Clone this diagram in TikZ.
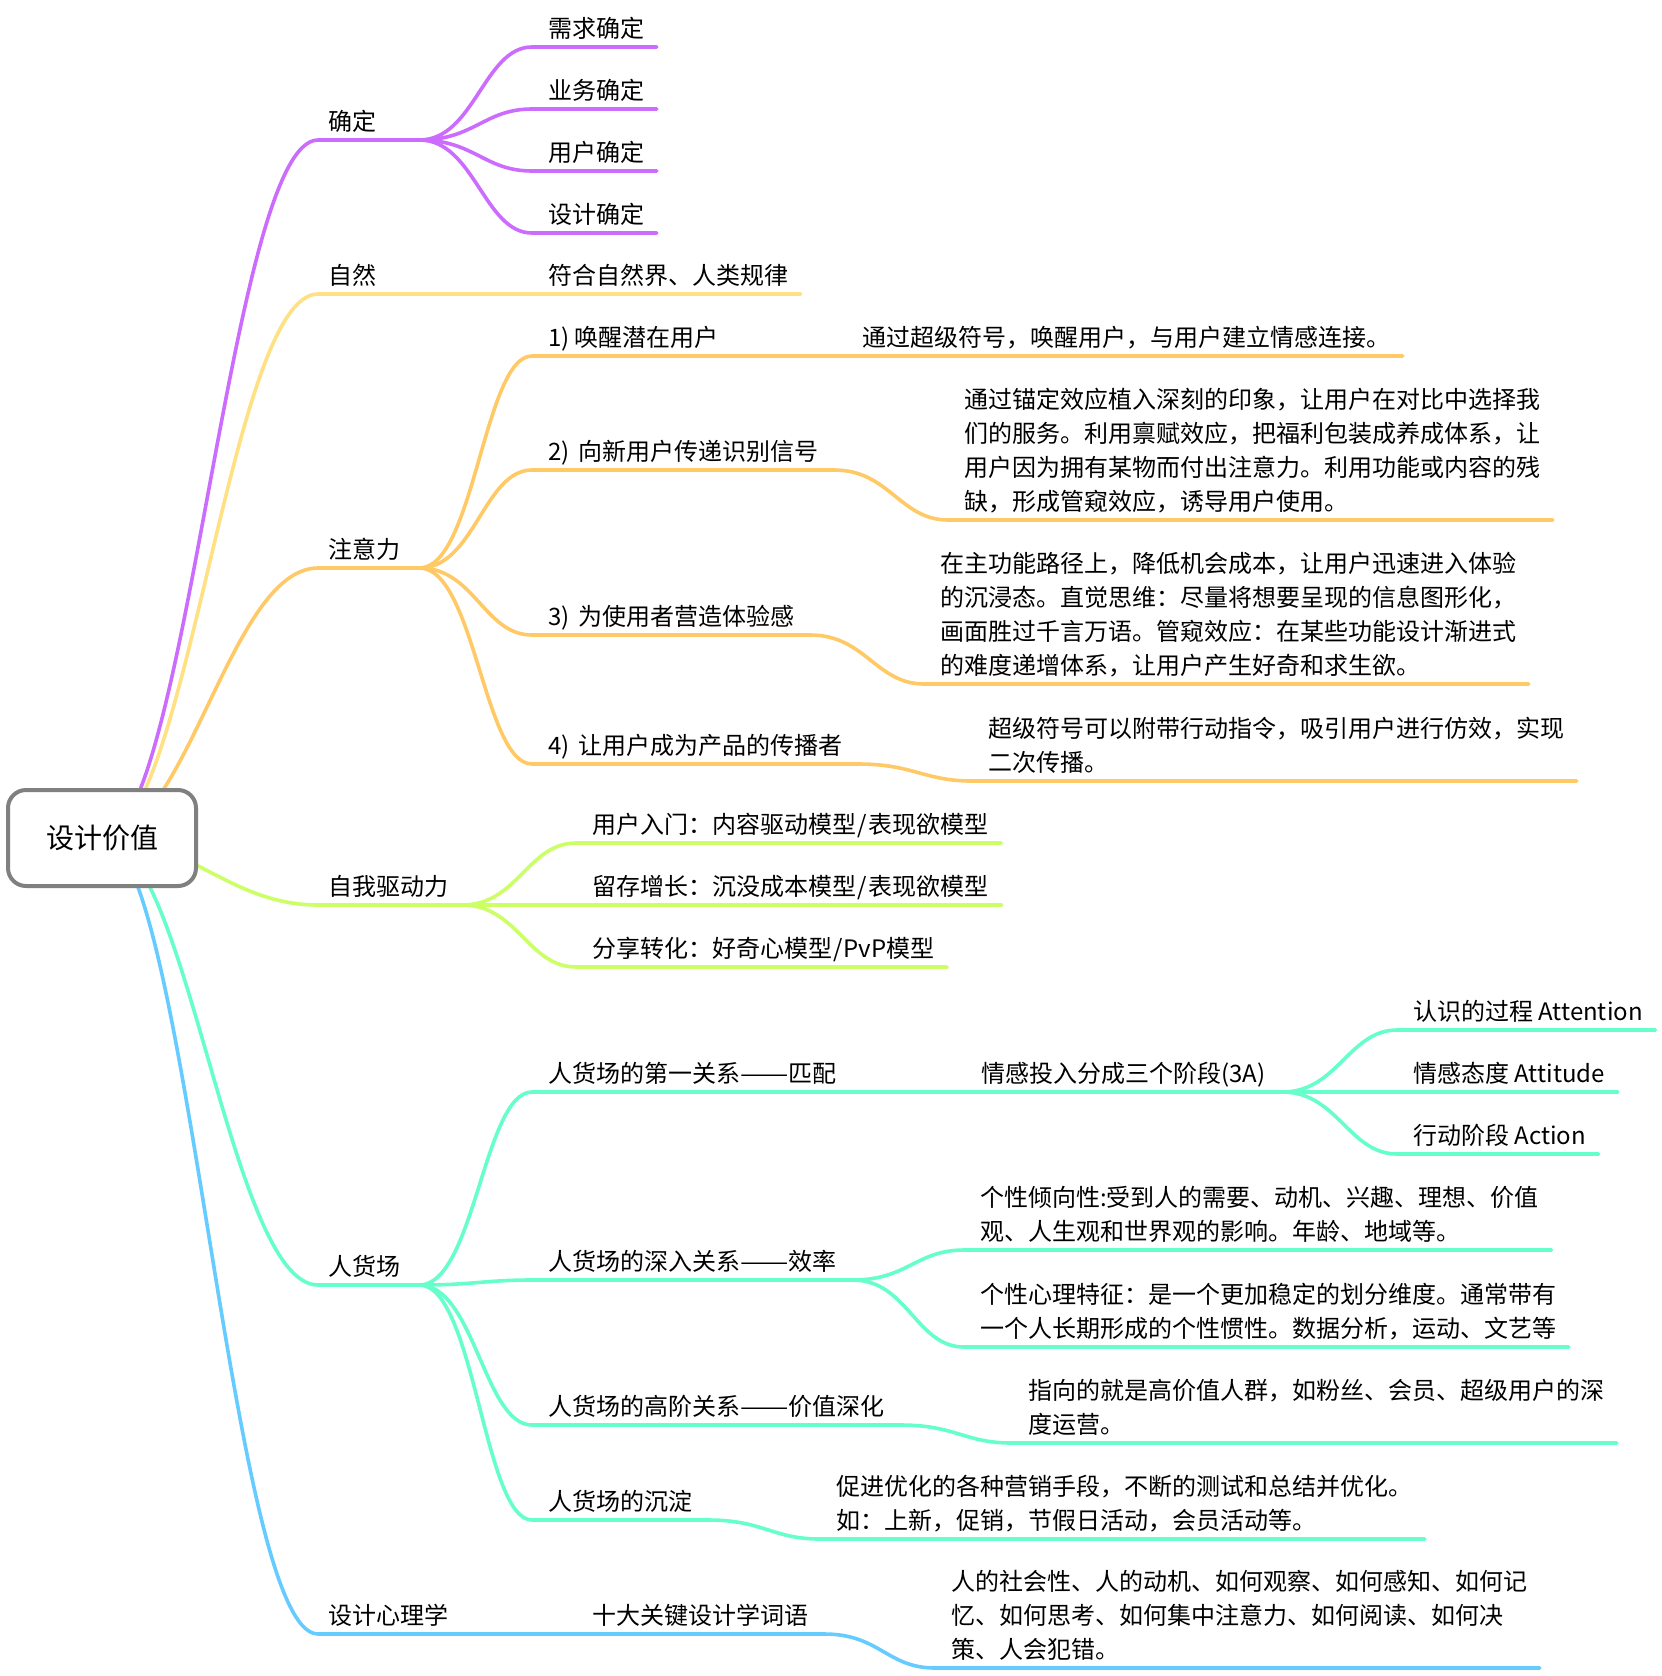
\documentclass[tikz,border=0pt]{standalone}
\usepackage{fontspec}
\setmainfont{Noto Sans CJK SC}
\usetikzlibrary{backgrounds}

\definecolor{purpleline}{HTML}{CC6CFF}
\definecolor{yellowline}{HTML}{FFE082}
\definecolor{orangeline}{HTML}{FFC966}
\definecolor{limeline}{HTML}{CCFF66}
\definecolor{tealline}{HTML}{66FFCC}
\definecolor{blueline}{HTML}{66CCFF}

\newcommand{\widedash}{{\addfontfeature{FakeStretch=1.2}——}}

\tikzset{
    topic/.style={anchor=south west, font=\fontsize{24}{34}\selectfont, align=left, inner xsep=16pt, inner ysep=0pt, text depth=9pt},
    stem/.style={topic, inner xsep=10pt},
    hub/.style={stem, text width=81pt},
    branch/.style={line width=3.6pt, line cap=round, line join=round},
    leaf/.style={branch, shorten >=3.5pt},
    twig/.style={out=0, in=180, out distance=55pt, in distance=48pt}
}

\begin{document}
\begin{tikzpicture}[x=1pt, y=-1pt]
    \useasboundingbox (0, -1) rectangle (1662, 1675);

    \node[rectangle, draw=black!50, line width=4pt, rounded corners=18pt, fill=white, minimum width=188pt, minimum height=96pt, font=\fontsize{28}{34}\selectfont] (root) at (102, 837) {设计价值};

    \node[hub] (sure) at (318, 139) {确定};
    \node[topic] (sure_a) at (532, 46) {需求确定};
    \node[topic] (sure_b) at (532, 108) {业务确定};
    \node[topic] (sure_c) at (532, 170) {用户确定};
    \node[topic] (sure_d) at (532, 232) {设计确定};

    \node[hub] (nature) at (318, 293) {自然};
    \node[topic] (nature_a) at (532, 293) {符合自然界、人类规律};

    \node[hub] (attn) at (318, 567) {注意力};
    \node[topic] (attn_a) at (532, 355) {1)\kern-1pt{} 唤醒潜在用户};
    \node[topic] (attn_a1) at (846, 355) {通过超级符号，唤醒用户，与用户建立情感连接。};
    \node[topic] (attn_b) at (532, 469) {2)\kern3pt{} 向新用户传递识别信号};
    \node[topic] (attn_b1) at (948, 519) {通过锚定效应植入深刻的印象，让用户在对比中选择我\\们的服务。利用禀赋效应，把福利包装成养成体系，让\\用户因为拥有某物而付出注意力。利用功能或内容的残\\缺，形成管窥效应，诱导用户使用。};
    \node[topic] (attn_c) at (532, 634) {3)\kern3pt{} 为使用者营造体验感};
    \node[topic] (attn_c1) at (924, 683) {在主功能路径上，降低机会成本，让用户迅速进入体验\\的沉浸态。直觉思维：尽量将想要呈现的信息图形化，\\画面胜过千言万语。管窥效应：在某些功能设计渐进式\\的难度递增体系，让用户产生好奇和求生欲。};
    \node[topic] (attn_d) at (532, 763) {4)\kern3pt{} 让用户成为产品的传播者};
    \node[topic] (attn_d1) at (972, 780) {超级符号可以附带行动指令，吸引用户进行仿效，实现\\二次传播。};

    \node[stem, text width=124pt] (drive) at (318, 904) {自我驱动力};
    \node[topic] (drive_a) at (576, 842) {用户入门：内容驱动模型\kern1.5pt/\kern1.5pt{}表现欲模型};
    \node[topic] (drive_b) at (576, 904) {留存增长：沉没成本模型\kern1.5pt/\kern1.5pt{}表现欲模型};
    \node[topic] (drive_c) at (576, 966) {分享转化：好奇心模型\kern1pt/\kern1pt{}PvP模型};

    \node[hub] (scene) at (318, 1284) {人货场};
    \node[topic] (scene_a) at (532, 1091) {人货场的第一关系\widedash{}匹配};
    \node[topic, text width=285pt] (scene_a1) at (965, 1091) {情感投入分成三个阶段(3A)};
    \node[topic] (stage_a) at (1397, 1029) {认识的过程 Attention};
    \node[topic] (stage_b) at (1397, 1091) {情感态度 Attitude};
    \node[topic] (stage_c) at (1397, 1153) {行动阶段 Action};
    \node[topic] (scene_b) at (532, 1279) {人货场的深入关系\widedash{}效率};
    \node[topic] (scene_b1) at (964, 1249) {个性倾向性:受到人的需要、动机、兴趣、理想、价值\\观、人生观和世界观的影响。年龄、地域等。};
    \node[topic] (scene_b2) at (964, 1346) {个性心理特征：是一个更加稳定的划分维度。通常带有\\一个人长期形成的个性惯性。数据分析，运动、文艺等};
    \node[topic] (scene_c) at (532, 1424) {人货场的高阶关系\widedash{}价值深化};
    \node[topic] (scene_c1) at (1012, 1442) {指向的就是高价值人群，如粉丝、会员、超级用户的深\\度运营。};
    \node[topic] (scene_d) at (532, 1519) {人货场的沉淀};
    \node[topic] (scene_d1) at (820, 1538) {促进优化的各种营销手段，不断的测试和总结并优化。\\如：上新，促销，节假日活动，会员活动等。};

    \node[stem] (psych) at (318, 1633) {设计心理学};
    \node[topic] (psych_a) at (576, 1633) {十大关键设计学词语};
    \node[topic] (psych_a1) at (935, 1667) {人的社会性、人的动机、如何观察、如何感知、如何记\\忆、如何思考、如何集中注意力、如何阅读、如何决\\策、人会犯错。};

    \begin{scope}[on background layer]
        \draw[branch, purpleline] (root.center) .. controls +(85, 0) and +(-88, 0) .. (sure.south west) -- (sure.south east);
        \draw[leaf, purpleline] (sure.south east) to[twig] (sure_a.south west) -- (sure_a.south east);
        \draw[leaf, purpleline] (sure.south east) to[twig] (sure_b.south west) -- (sure_b.south east);
        \draw[leaf, purpleline] (sure.south east) to[twig] (sure_c.south west) -- (sure_c.south east);
        \draw[leaf, purpleline] (sure.south east) to[twig] (sure_d.south west) -- (sure_d.south east);

        \draw[leaf, yellowline] (root.center) .. controls +(85, 0) and +(-88, 0) .. (nature.south west) -- (nature.south east) -- (nature_a.south west) -- (nature_a.south east);

        \draw[branch, orangeline] (root.center) .. controls +(85, 0) and +(-88, 0) .. (attn.south west) -- (attn.south east);
        \draw[leaf, orangeline] (attn.south east) to[twig] (attn_a.south west) -- (attn_a.south east) -- (attn_a1.south west) -- (attn_a1.south east);
        \draw[leaf, orangeline] (attn.south east) to[twig] (attn_b.south west) -- (attn_b.south east) to[twig] (attn_b1.south west) -- (attn_b1.south east);
        \draw[leaf, orangeline] (attn.south east) to[twig] (attn_c.south west) -- (attn_c.south east) to[twig] (attn_c1.south west) -- (attn_c1.south east);
        \draw[leaf, orangeline] (attn.south east) to[twig] (attn_d.south west) -- (attn_d.south east) to[twig] (attn_d1.south west) -- (attn_d1.south east);

        \draw[branch, limeline] (root.center) .. controls +(85, 0) and +(-88, 0) .. (drive.south west) -- (drive.south east);
        \draw[leaf, limeline] (drive.south east) to[twig] (drive_a.south west) -- (drive_a.south east);
        \draw[leaf, limeline] (drive.south east) to[twig] (drive_b.south west) -- (drive_b.south east);
        \draw[leaf, limeline] (drive.south east) to[twig] (drive_c.south west) -- (drive_c.south east);

        \draw[branch, tealline] (root.center) .. controls +(85, 0) and +(-88, 0) .. (scene.south west) -- (scene.south east);
        \draw[branch, tealline] (scene.south east) to[twig] (scene_a.south west) -- (scene_a.south east) -- (scene_a1.south west) -- (scene_a1.south east);
        \draw[leaf, tealline] (scene_a1.south east) to[twig] (stage_a.south west) -- (stage_a.south east);
        \draw[leaf, tealline] (scene_a1.south east) to[twig] (stage_b.south west) -- (stage_b.south east);
        \draw[leaf, tealline] (scene_a1.south east) to[twig] (stage_c.south west) -- (stage_c.south east);
        \draw[branch, tealline] (scene.south east) to[twig] (scene_b.south west) -- (scene_b.south east);
        \draw[leaf, tealline] (scene_b.south east) to[twig] (scene_b1.south west) -- (scene_b1.south east);
        \draw[leaf, tealline] (scene_b.south east) to[twig] (scene_b2.south west) -- (scene_b2.south east);
        \draw[leaf, tealline] (scene.south east) to[twig] (scene_c.south west) -- (scene_c.south east) to[twig] (scene_c1.south west) -- (scene_c1.south east);
        \draw[leaf, tealline] (scene.south east) to[twig] (scene_d.south west) -- (scene_d.south east) to[twig] (scene_d1.south west) -- (scene_d1.south east);

        \draw[leaf, blueline] (root.center) .. controls +(85, 0) and +(-88, 0) .. (psych.south west) -- (psych.south east) -- (psych_a.south west) -- (psych_a.south east) to[twig] (psych_a1.south west) -- (psych_a1.south east);
    \end{scope}
\end{tikzpicture}
\end{document}
